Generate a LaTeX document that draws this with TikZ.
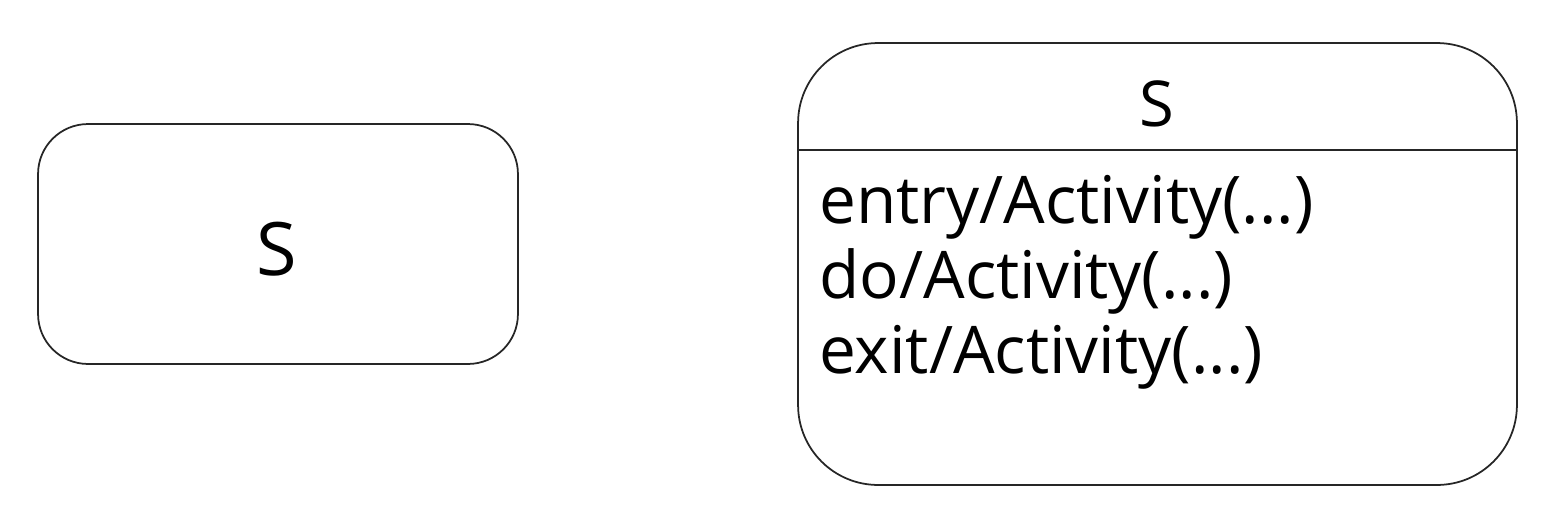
\documentclass[tikz,border=0pt]{standalone}
\usepackage{fontspec}
\setmainfont{Open Sans}
\begin{document}
\begin{tikzpicture}[x=0.02cm,y=-0.02cm,
  box/.style={draw=black!85,line width=1pt,inner sep=0pt},
  act/.style={anchor=base west,inner sep=0pt,font=\fontsize{37.4}{42}\selectfont}]
\useasboundingbox (0,0) rectangle (1556,518);
% simple state
\node[box,rounded corners=1cm,minimum width=9.6cm,minimum height=4.8cm] (s1) at (278,244) {};
\node[font=\fontsize{42}{46}\selectfont,inner sep=0pt] (s1l) at (277,249) {S};
% state with activities
\node[box,rounded corners=1.6cm,minimum width=14.38cm,minimum height=8.84cm] (s2) at (1157.5,264) {};
\coordinate (dl) at (798,150);
\coordinate (dr) at (1517,150);
\draw[draw=black!85,line width=1pt] (dl) -- (dr);
\node[font=\fontsize{36}{40}\selectfont,inner sep=0pt] (s2l) at (1157,104) {S};
\node[act] (a1) at (819,223) {entry/Activity(...)};
\node[act] (a2) at (819,298) {do/Activity(...)};
\node[act] (a3) at (819,373) {exit/Activity(...)};
\end{tikzpicture}
\end{document}
